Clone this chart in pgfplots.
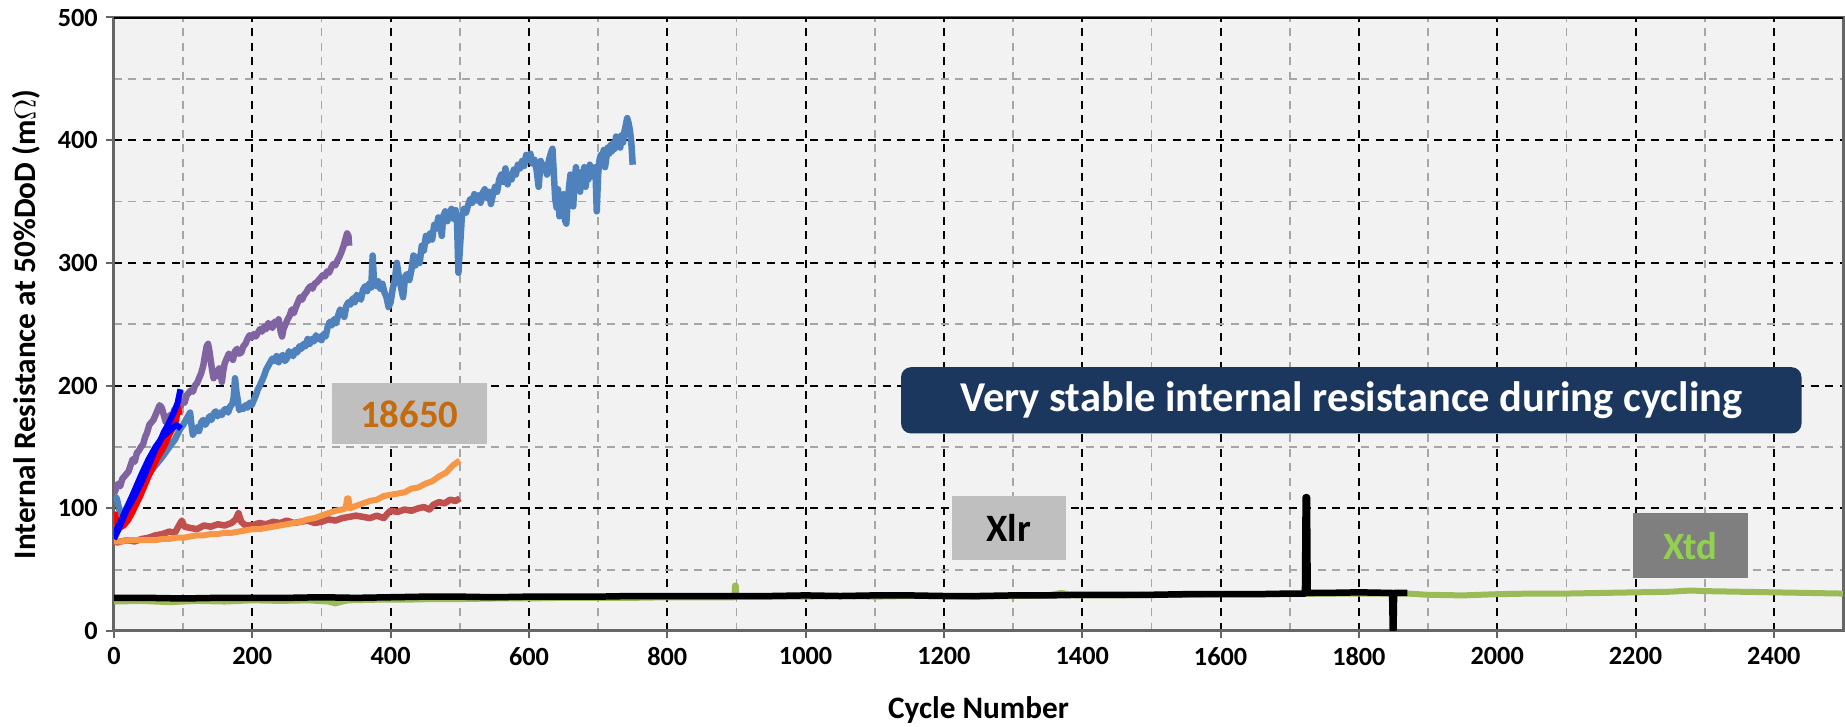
\documentclass[border=0pt]{standalone}
\usepackage{pgfplots}
\pgfplotsset{compat=1.18}
\usepackage{fontspec}
\setmainfont{Carlito}
\usetikzlibrary{calc}
\definecolor{cSteel}{HTML}{4F81BD}
\definecolor{cPurple}{HTML}{8064A2}
\definecolor{cDarkRed}{HTML}{C0504D}
\definecolor{cOrange}{HTML}{F79646}
\definecolor{cGreen}{HTML}{9BBB59}
\definecolor{cNavy}{HTML}{1B375E}
\definecolor{cBoxGrey}{HTML}{BFBFBF}
\definecolor{cBoxDark}{HTML}{7F7F7F}
\definecolor{cTxtOrange}{HTML}{C66A0E}
\definecolor{cTxtGreen}{HTML}{92D050}
\definecolor{cBg}{HTML}{F2F2F2}
\begin{document}
\begin{tikzpicture}
\begin{axis}[
  name=ax, scale only axis,
  width=691.6pt, height=245.4pt,
  xmin=0, xmax=2500, ymin=0, ymax=500,
  xtick={0,200,...,2400}, ytick={0,100,...,500},
  minor x tick num=1, minor y tick num=1,
  grid=both,
  major grid style={black, dash pattern=on 3.2pt off 2.6pt, line width=0.8pt},
  minor grid style={black!35, dash pattern=on 3.2pt off 2.6pt, line width=0.7pt},
  tick align=outside, tick pos=left,
  major tick length=3pt, minor tick length=0pt,
  tick style={black!60, line width=0.8pt},
  axis background/.style={fill=cBg},
  axis line style={black!60, line width=1.2pt},
  /pgf/number format/assume math mode=true,
  /pgf/number format/1000 sep={},
  ticklabel style={font=\bfseries\fontsize{10.5}{12}\selectfont},
  xlabel={Cycle Number},
  ylabel={Internal Resistance at 50\%DoD (m$\Omega$)},
  label style={font=\bfseries\fontsize{12.5}{14}\selectfont},
  xlabel style={at={(axis description cs:0.5,0)}, anchor=center, yshift=-31.6pt},
  ylabel style={at={(axis description cs:-0.0506,0.5)}, anchor=center},
  every axis plot/.append style={line join=round},
]
% Xtd (green)
\addplot[cGreen, line width=2.4pt] coordinates {
(0,24) (40,24.5) (80,23.5) (120,24.5) (160,24) (200,25) (240,24.5) (280,25) (310,24) (320,22.5) (330,24) (340,25) (380,25.5) (420,25.5) (460,26) (500,26) (550,26.5) (600,26.5) (650,27) (700,27) (750,27) (800,27.5) (850,27.5) (897,27.5) (898,37) (899,37) (900,28) (950,28) (1000,28) (1050,28.5) (1100,28) (1150,28.5) (1200,28.5) (1250,28) (1300,28.5) (1350,29) (1370,31) (1390,29) (1450,29) (1500,29.5) (1550,29.5) (1600,30) (1650,30) (1700,30) (1750,30.5) (1800,30.5) (1870,30.5) (1900,29.5) (1950,29) (2000,30) (2050,30.5) (2100,30.5) (2150,31) (2200,31.5) (2250,32) (2280,33) (2300,32.5) (2350,32) (2400,31.5) (2450,31) (2500,30.5)};
% Xlr (black)
\addplot[black, line width=2.6pt] coordinates {
(0,27) (50,27) (100,26.5) (150,27) (200,27) (250,27) (300,27.5) (350,27) (400,27.5) (450,28) (500,28) (550,27.5) (600,28) (650,28) (700,28) (750,28.5) (800,28.5) (850,28.5) (900,28.5) (950,28.5) (1000,29) (1050,28.5) (1100,29) (1150,29) (1200,28.5) (1250,28.5) (1300,29) (1350,29) (1400,29.5) (1450,29.5) (1500,29.5) (1550,30) (1600,30) (1650,30) (1700,30.5) (1722,30.5) (1723,109) (1725,109) (1726,31) (1750,31) (1800,31.5) (1848,31) (1849,0) (1850,0) (1851,31) (1870,31)};
% steel blue
\addplot[cSteel, line width=2.6pt] coordinates {
(0,110) (4,108) (8,98) (12,95) (18,100) (25,108) (32,115) (40,120) (50,128) (60,135) (70,142) (80,150) (88,156) (96,165) (100,168) (104,172) (107,175) (110,178) (112,168) (114,160) (117,163) (120,166) (123,163) (126,170) (129,172) (132,168) (135,171) (138,175) (141,172) (144,177) (147,179) (150,175) (153,178) (156,176) (159,180) (162,181) (165,178) (168,183) (171,185) (173,190) (175,206) (177,195) (179,188) (181,180) (184,182) (187,181) (190,184) (193,182) (196,186) (199,184) (202,188) (205,192) (208,197) (211,200) (214,204) (217,208) (220,213) (223,216) (226,219) (229,222) (232,220) (235,224) (238,219) (241,223) (244,225) (247,220) (250,222) (253,228) (256,226) (259,224) (262,229) (265,227) (268,232) (271,230) (274,234) (277,232) (280,238) (283,234) (286,238) (289,236) (292,241) (295,238) (298,240)
(300,237) (303,242) (306,240) (309,248) (312,252) (315,249) (318,254) (321,251) (324,257) (327,262) (330,260) (333,256) (336,265) (339,268) (342,266) (345,271) (348,268) (351,274) (354,272) (357,270) (360,278) (363,281) (366,277) (369,283) (372,280) (374,306) (376,284) (379,281) (382,285) (385,279) (388,283) (391,276) (394,272) (397,264) (400,268) (403,279) (406,286) (409,300) (412,288) (415,280) (418,272) (421,289) (424,291) (427,286) (430,294) (433,306) (436,298) (439,305) (442,300) (445,314) (448,310) (451,322) (454,318) (457,324) (460,319) (463,331) (466,328) (469,337) (472,330) (474,322) (476,338) (479,342) (482,334) (485,340) (488,344) (491,336) (494,343) (496,332) (498,292) (500,310) (503,338) (506,344) (509,341) (512,347) (515,352) (518,349) (521,356) (524,351) (527,355) (530,349) (533,357) (536,360) (539,353) (542,358) (545,348) (548,356) (551,362) (554,358) (557,368) (560,372) (563,366) (566,377) (569,364) (572,372) (575,368) (578,376) (581,372) (584,380) (587,377) (590,383) (593,379) (596,388) (599,384) (602,389) (605,381) (608,384) (611,376) (614,362) (617,383) (620,378) (623,380) (626,372) (629,384) (632,390) (634,393) (636,372) (638,352) (640,345) (642,360) (644,338) (646,352) (648,340) (650,356) (652,335) (654,332) (656,350) (658,362) (660,372) (662,355) (664,346) (666,368) (668,378) (670,360) (672,370) (674,358) (676,374) (678,368) (680,378) (682,362) (684,372) (686,368) (688,380) (690,372) (692,376) (694,370) (696,378) (698,342) (700,372) (702,384) (704,388) (706,382) (708,392) (710,378) (712,386) (714,394) (716,389) (718,396) (720,391) (722,398) (724,393) (726,403) (728,396) (730,400) (732,394) (734,404) (736,398) (738,407) (740,412) (742,418) (744,414) (746,408) (748,398) (750,380)};
% purple
\addplot[cPurple, line width=2.6pt] coordinates {
(0,112) (3,116) (6,120) (9,118) (12,124) (15,126) (18,128) (21,130) (24,135) (27,140) (30,138) (33,145) (36,147) (39,150) (42,152) (45,158) (48,162) (51,168) (54,170) (57,172) (60,176) (63,180) (66,184) (69,182) (72,176) (75,170) (78,172) (81,176) (84,174) (87,180) (90,182) (93,185) (96,183) (99,187) (102,186) (105,192) (108,194) (111,196) (114,195) (117,200) (120,202) (123,206) (126,210) (129,216) (132,226) (134,232) (136,234) (138,228) (140,220) (142,212) (144,206) (146,210) (148,212) (150,208) (152,214) (154,210) (156,203) (158,212) (160,218) (163,222) (166,226) (169,224) (172,221) (175,228) (178,230) (181,226) (184,227) (187,232) (190,234) (193,238) (196,241) (199,239) (202,242) (205,240) (208,243) (211,246) (214,244) (217,248) (220,246) (223,251) (226,249) (229,247) (232,252) (235,250) (238,254) (241,244) (243,240) (245,246) (248,250) (251,254) (254,257) (257,262) (260,259) (263,264) (266,268) (269,272) (272,270) (275,274) (278,276) (281,279) (284,281) (287,279) (290,283) (293,284) (296,286) (299,288) (302,290) (305,289) (308,293) (311,292) (314,296) (317,299) (320,298) (323,302) (326,305) (329,309) (332,314) (335,320) (337,324) (339,322) (340,314)};
% dark red
\addplot[cDarkRed, line width=2.6pt] coordinates {
(0,74) (4,72) (10,73) (20,74) (30,73) (40,75) (50,76) (60,78) (70,79) (80,81) (88,80) (94,86) (98,90) (102,85) (110,84) (120,83) (130,86) (140,85) (150,87) (160,86) (170,88) (176,91) (180,96) (184,89) (190,86) (200,86) (210,88) (220,87) (230,89) (240,88) (250,90) (260,88) (270,89) (280,90) (290,88) (300,89) (310,91) (320,90) (330,92) (340,93) (350,94) (360,93) (370,92) (380,94) (390,92) (396,96) (400,98) (410,97) (420,99) (430,98) (440,100) (448,101) (456,99) (462,103) (470,105) (478,104) (486,107) (494,106) (500,108)};
% orange
\addplot[cOrange, line width=2.4pt] coordinates {
(0,73) (10,73) (20,74) (30,74) (40,74) (50,74) (60,74) (70,75) (80,75) (90,76) (100,76) (110,77) (120,78) (130,78) (140,79) (150,79) (160,80) (170,80) (180,81) (190,82) (200,83) (210,83) (220,84) (230,85) (240,86) (250,87) (260,88) (270,89) (280,91) (290,92) (300,94) (310,96) (320,98) (330,99) (335,100) (337,108) (339,108) (341,100) (350,102) (360,104) (370,106) (380,107) (390,110) (400,111) (410,112) (420,113) (430,116) (440,117) (450,120) (460,122) (470,126) (480,129) (490,135) (500,139)};
% red
\addplot[red, line width=2.4pt] coordinates {
(0,90) (2,95) (4,88) (8,84) (14,86) (20,90) (26,96) (32,103) (38,110) (44,118) (50,126) (56,133) (62,140) (68,146) (74,152) (80,160) (86,166) (90,172) (93,182) (95,176)};
\addplot[red, line width=2.4pt] coordinates {
(0,80) (10,88) (20,98) (30,108) (40,120) (50,130) (60,142) (70,152) (80,162) (90,172)};
% blue
\addplot[blue, line width=2.4pt] coordinates {
(0,78) (10,90) (20,102) (30,115) (40,128) (50,140) (60,150) (70,158) (80,163) (90,168) (97,165)};
\addplot[blue, line width=2.4pt] coordinates {
(0,75) (6,82) (12,90) (18,98) (24,104) (30,110) (36,117) (42,124) (48,132) (54,140) (60,148) (66,154) (72,162) (78,168) (84,175) (88,180) (92,186) (96,197)};
% top frame
\draw[black, line width=1.4pt] (rel axis cs:0,1) -- (rel axis cs:1,1);
% annotation boxes
\fill[cBoxGrey] (axis cs:315,152) rectangle (axis cs:539,202);
\node[text=cTxtOrange, font=\bfseries\fontsize{15.5}{17}\selectfont] at (axis cs:427,177) {18650};
\fill[cNavy, rounded corners=4pt] (axis cs:1138,161) rectangle (axis cs:2440,215);
\node[text=white, font=\bfseries\fontsize{17}{19}\selectfont] at (axis cs:1789,188) {Very stable internal resistance during cycling};
\fill[cBoxGrey] (axis cs:1211,58) rectangle (axis cs:1376,110);
\node[text=black, font=\bfseries\fontsize{15.5}{17}\selectfont] at (axis cs:1293.5,84) {Xlr};
\fill[cBoxDark] (axis cs:2196,43) rectangle (axis cs:2362,96);
\node[text=cTxtGreen, font=\bfseries\fontsize{15.5}{17}\selectfont] at (axis cs:2279,69.5) {Xtd};
\end{axis}
\pgfresetboundingbox
\path ($(ax.south west)+(-45.6pt,-38.4pt)$) rectangle ($(ax.north east)+(0.8pt,7pt)$);
\end{tikzpicture}
\end{document}
